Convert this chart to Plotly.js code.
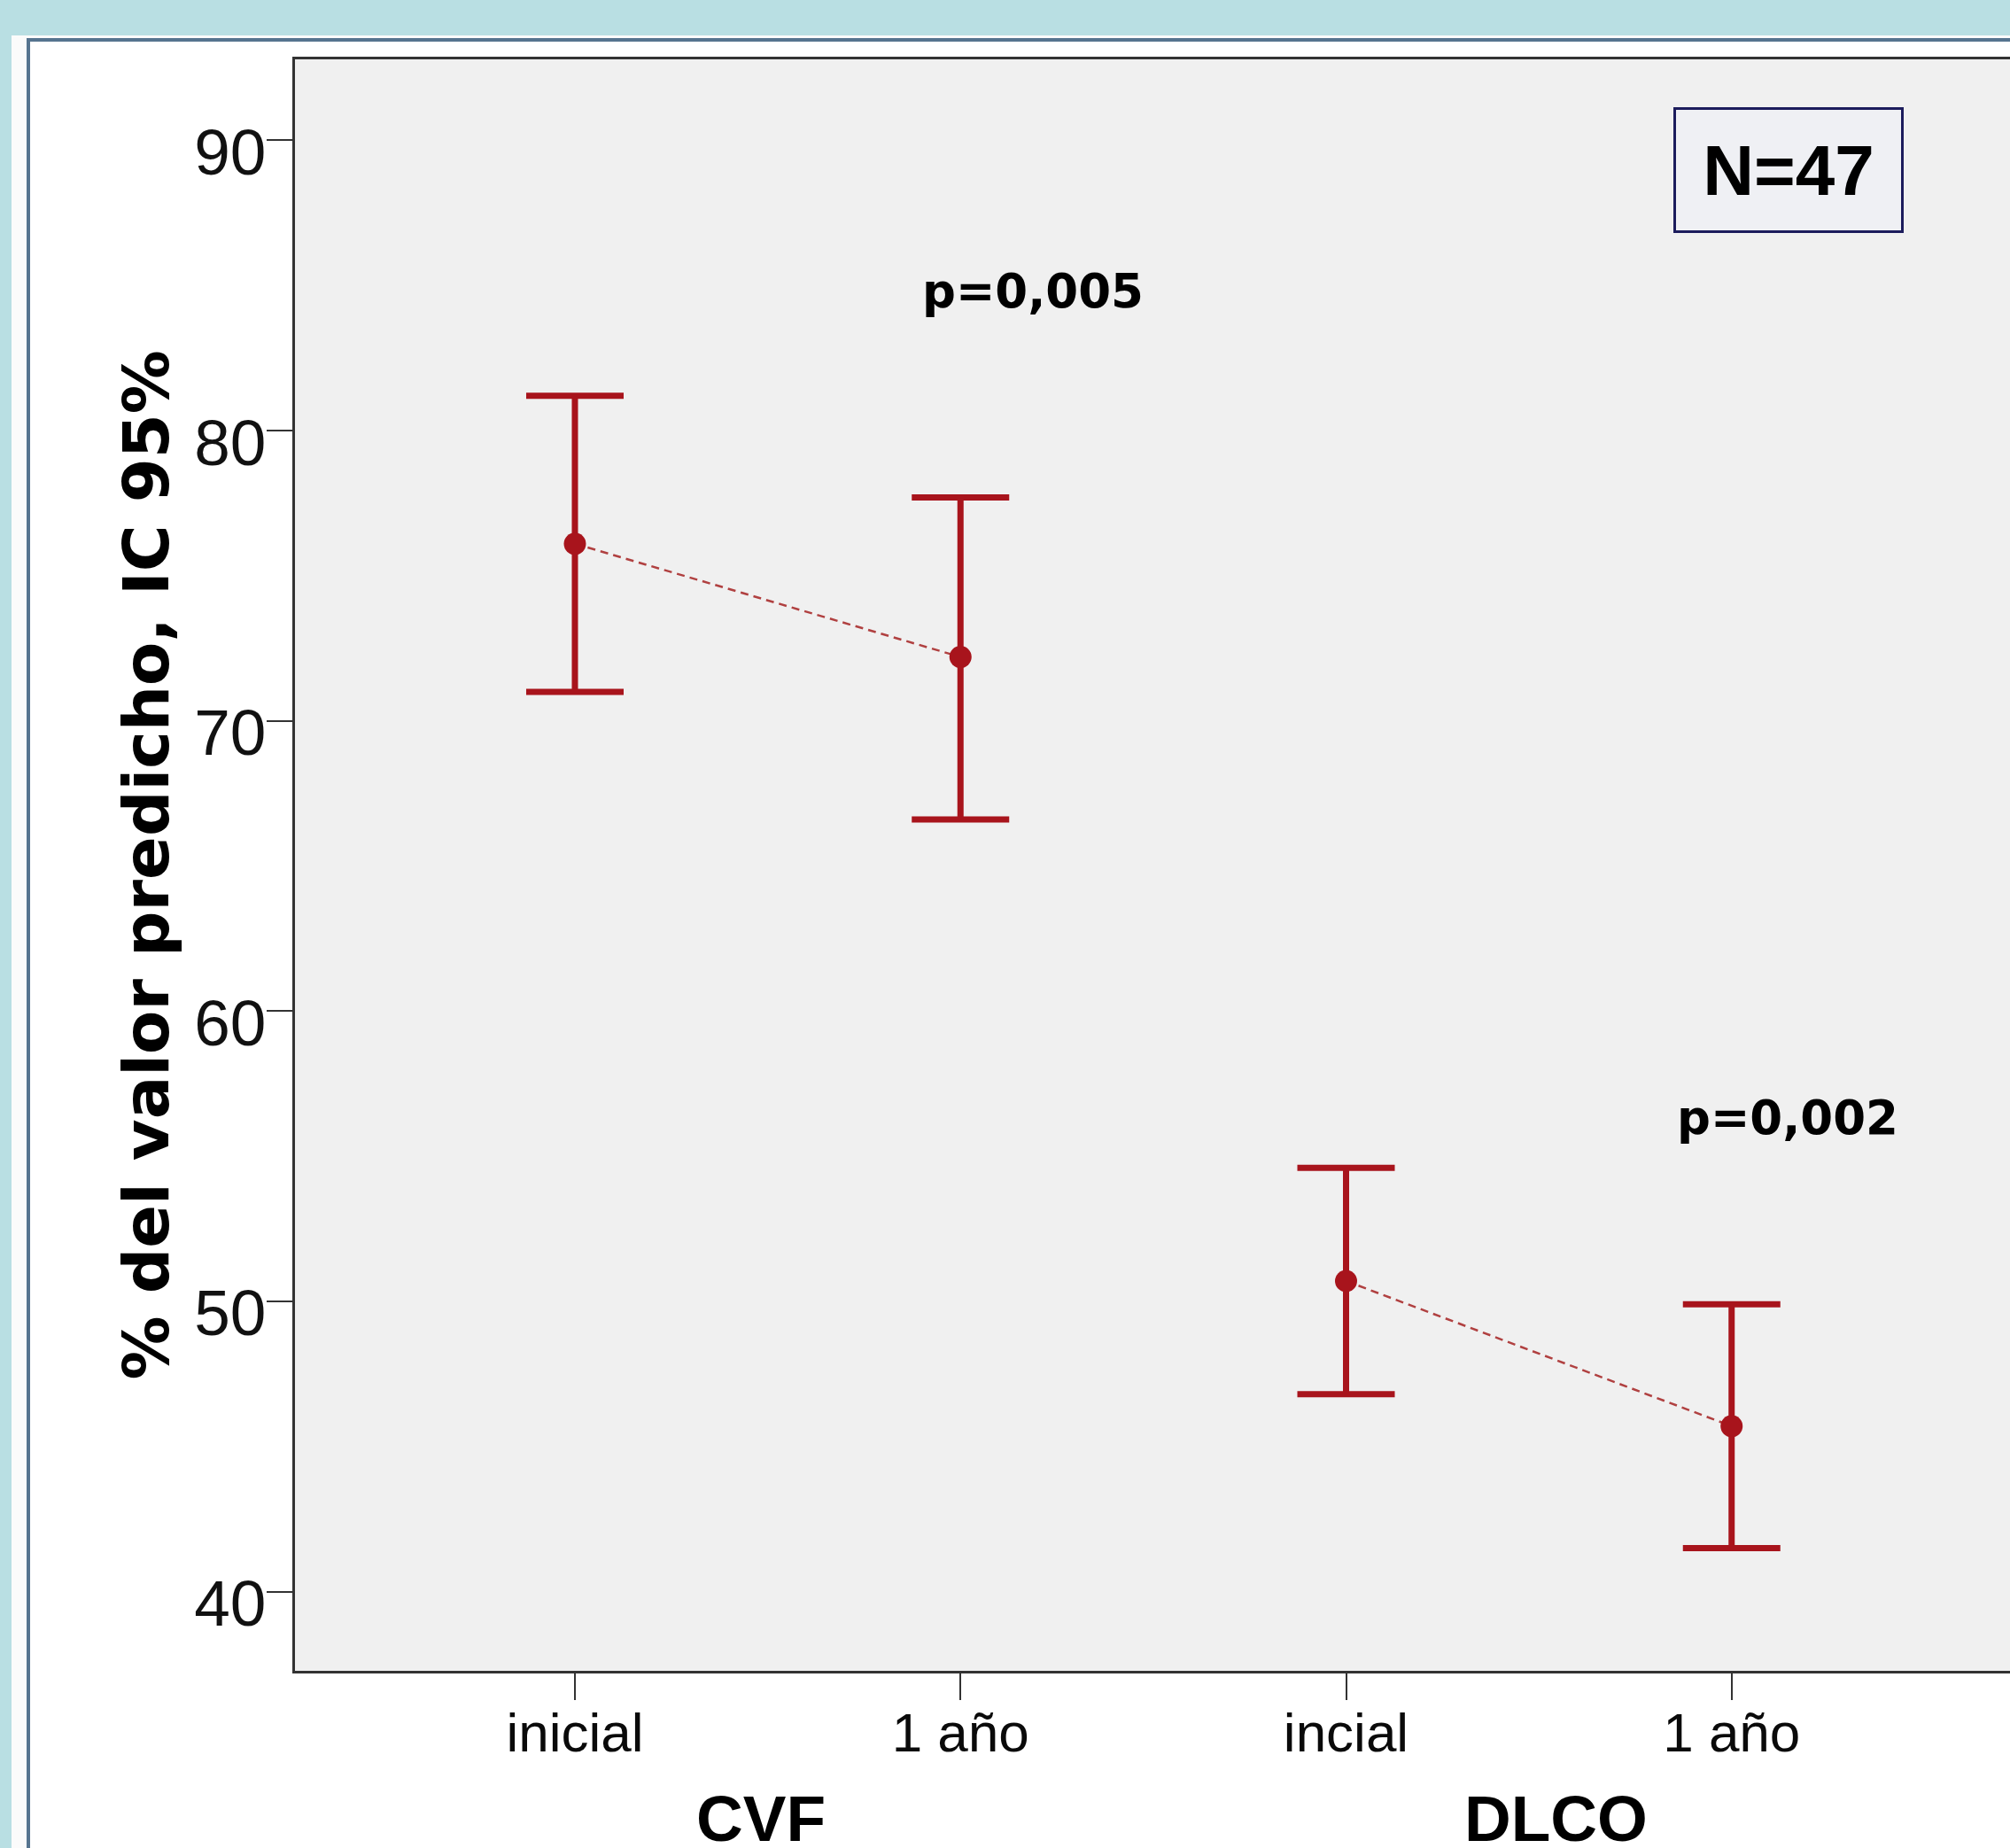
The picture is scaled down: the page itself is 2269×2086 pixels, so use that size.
<!DOCTYPE html>
<html>
<head>
<meta charset="utf-8">
<script src="https://cdn.plot.ly/plotly-3.0.1.min.js"></script>
<style>
  html, body { margin: 0; padding: 0; }
  body { width: 2269px; height: 2086px; overflow: hidden; background: #b9dfe3; position: relative; }
  #panel { position: absolute; left: 13px; top: 40px; width: 2300px; height: 2100px; background: #fbfbfb; }
  #frame { position: absolute; left: 30px; top: 43px; width: 2300px; height: 2100px; border: 4px solid #56748f; background: #ffffff; box-sizing: border-box; }
  #chart { position: absolute; left: 0; top: 0; width: 2269px; height: 2086px; z-index: 2; }
</style>
</head>
<body>
<div id="panel"></div>
<div id="frame"></div>
<div id="chart"></div>
<script>
// ---- data ----
const categories = ["inicial", "1 año", "incial", "1 año"];
const groups = ["CVF", "DLCO"];
const meanValues = [76.1, 72.2, 50.7, 45.7];
const upperCI = [81.2, 77.7, 54.6, 49.9];
const lowerCI = [71.0, 66.6, 46.8, 41.5];
const yTickValues = [40, 50, 60, 70, 80, 90];
const pValueLabels = ["p=0,005", "p=0,002"];
const sampleLabel = "N=47";
const yTitle = "% del valor predicho, IC 95%";

// ---- derived ----
const xIdx = categories.map((c, i) => i);
const errPlus = meanValues.map((m, i) => upperCI[i] - m);
const errMinus = meanValues.map((m, i) => m - lowerCI[i]);

const red = "#a8141c";

const traces = [];
// dashed connectors within each group
for (let g = 0; g < groups.length; g++) {
  const ids = [2 * g, 2 * g + 1];
  traces.push({
    type: "scatter", mode: "lines",
    x: ids.map(i => xIdx[i]), y: ids.map(i => meanValues[i]),
    line: { color: "#b04040", width: 2.5, dash: "9px,6px" },
    hoverinfo: "skip", showlegend: false, cliponaxis: false
  });
}
traces.push({
  type: "scatter", mode: "markers",
  x: xIdx, y: meanValues,
  marker: { color: red, size: 25 },
  error_y: { type: "data", symmetric: false, array: errPlus, arrayminus: errMinus,
             color: red, thickness: 7, width: 55 },
  showlegend: false, cliponaxis: false
});

const plotL = 333, plotT = 67, plotB = 2086 - 1886;

const annotations = [
  { text: pValueLabels[0], x: 1.188, y: 84.82, xref: "x", yref: "y", showarrow: false,
    xanchor: "center", yanchor: "middle",
    font: { family: "DejaVu Sans", size: 53, color: "#000", weight: "bold" } },
  { text: pValueLabels[1], x: 3.145, y: 56.32, xref: "x", yref: "y", showarrow: false,
    xanchor: "center", yanchor: "middle",
    font: { family: "DejaVu Sans", size: 53, color: "#000", weight: "bold" } },
  { text: sampleLabel, x: 3.147, y: 88.98, xref: "x", yref: "y", showarrow: false,
    xanchor: "center", yanchor: "middle", width: 254, height: 136,
    bordercolor: "#1c1c5c", borderwidth: 3, borderpad: 0, bgcolor: "#eff0f4",
    font: { family: "Liberation Sans, Arial, sans-serif", size: 80, color: "#000", weight: "bold" } },
  { text: yTitle, x: 0, y: 0.5, xref: "paper", yref: "paper", showarrow: false,
    xanchor: "center", yanchor: "middle", textangle: -90, xshift: -169,
    font: { family: "DejaVu Sans", size: 72, color: "#000", weight: "bold" } },
  { text: groups[0], x: 0.482, y: -0.0915, xref: "x", yref: "paper", showarrow: false,
    xanchor: "center", yanchor: "middle",
    font: { family: "Liberation Sans, Arial, sans-serif", size: 73, color: "#000", weight: "bold" } },
  { text: groups[1], x: 2.545, y: -0.0915, xref: "x", yref: "paper", showarrow: false,
    xanchor: "center", yanchor: "middle",
    font: { family: "Liberation Sans, Arial, sans-serif", size: 73, color: "#000", weight: "bold" } }
];

const layout = {
  width: 2269, height: 2086,
  margin: { l: plotL, r: 0, t: plotT, b: plotB, pad: 0 },
  paper_bgcolor: "rgba(0,0,0,0)",
  plot_bgcolor: "#f0f0f0",
  showlegend: false,
  font: { family: "Liberation Sans, Arial, sans-serif", color: "#111" },
  xaxis: {
    range: [-0.726, 3.722], tickmode: "array", tickvals: xIdx, ticktext: categories,
    showgrid: false, zeroline: false,
    showline: true, linecolor: "#333", linewidth: 3, mirror: true,
    ticks: "outside", ticklen: 30, tickwidth: 2, tickcolor: "#333",
    ticklabelstandoff: -16,
    tickfont: { size: 62, color: "#0a0a0a" }
  },
  yaxis: {
    range: [37.27, 92.79], tickmode: "array", tickvals: yTickValues,
    showgrid: false, zeroline: false,
    showline: true, linecolor: "#333", linewidth: 3,
    ticks: "outside", ticklen: 29, tickwidth: 2, tickcolor: "#333",
    ticklabelstandoff: -14, ticklabelshift: 13,
    tickfont: { size: 73, color: "#111" }
  },
  annotations: annotations
};

Plotly.newPlot("chart", traces, layout, { staticPlot: true, displayModeBar: false });
</script>
</body>
</html>
